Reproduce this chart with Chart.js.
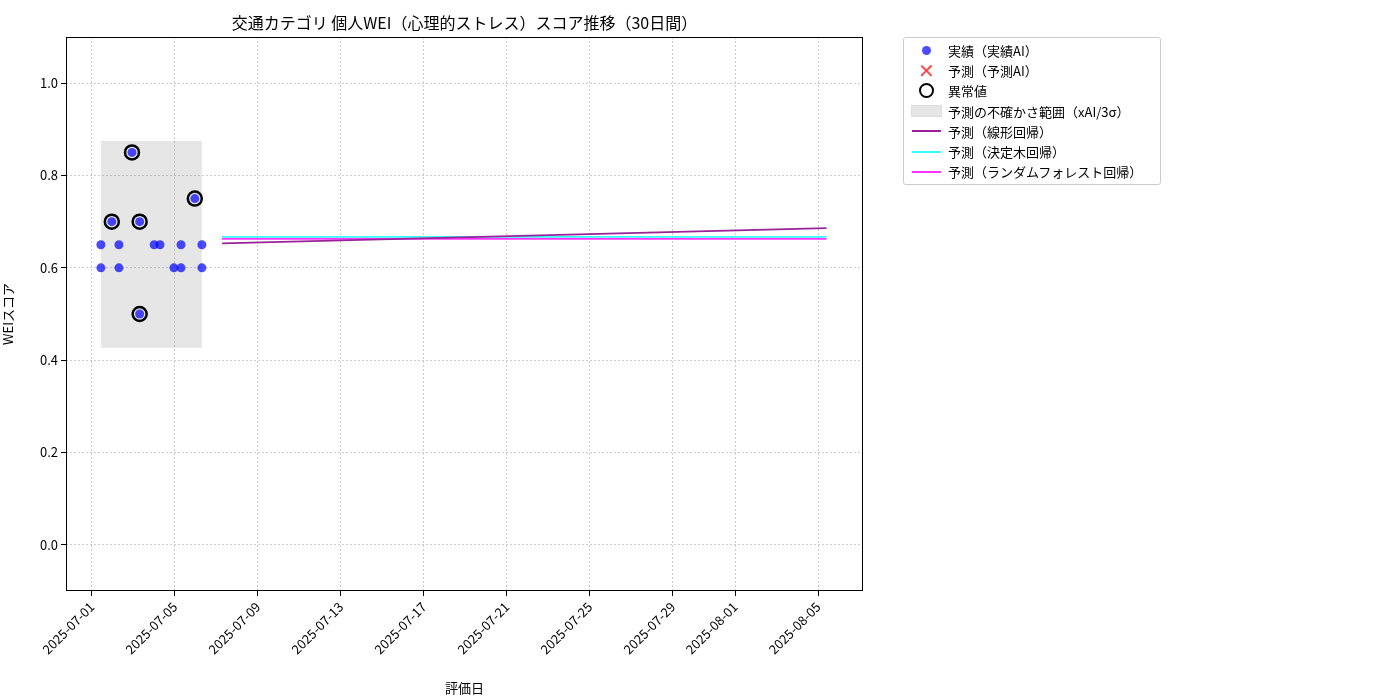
<!DOCTYPE html>
<html>
<head>
<meta charset="utf-8">
<script src="https://cdn.jsdelivr.net/npm/chart.js@4"></script>
<style>
body { margin: 0; background: #fff; font-family: "Noto Sans CJK JP", sans-serif; }
#wrap { position: relative; width: 1400px; height: 700px; }
#title { position: absolute; left: 66px; width: 797px; top: 10px; text-align: center; font-size: 16px; color: #000; }
#legend { position: absolute; left: 903px; top: 37px; width: 256px; border: 1px solid #ccc; border-radius: 3px; padding: 2px 0; font-size: 13px; }
.row { display: flex; align-items: center; height: 20.3px; }
.sym { width: 44px; display: flex; justify-content: center; align-items: center; }
</style>
</head>
<body>
<div id="wrap">
<canvas id="c" width="1400" height="700"></canvas>
<div id="title">交通カテゴリ 個人WEI（心理的ストレス）スコア推移（30日間）</div>
<div id="legend">
  <div class="row"><div class="sym"><span style="width:9px;height:9px;border-radius:50%;background:rgba(0,0,255,0.7)"></span></div>実績（実績AI）</div>
  <div class="row"><div class="sym"><span style="color:#ff4444;font-size:20px;line-height:1">✕</span></div>予測（予測AI）</div>
  <div class="row"><div class="sym"><span style="width:11px;height:11px;border-radius:50%;border:2.5px solid #000"></span></div>異常値</div>
  <div class="row"><div class="sym"><span style="width:29px;height:10px;background:rgba(128,128,128,0.2);border:1px solid #ddd"></span></div>予測の不確かさ範囲（xAI/3σ）</div>
  <div class="row"><div class="sym"><span style="width:29px;height:2px;background:#992299"></span></div>予測（線形回帰）</div>
  <div class="row"><div class="sym"><span style="width:29px;height:2px;background:#33ffff"></span></div>予測（決定木回帰）</div>
  <div class="row"><div class="sym"><span style="width:29px;height:2px;background:#ff33ff"></span></div>予測（ランダムフォレスト回帰）</div>
</div>
</div>
<script>
// actual scores
const actDates = ['2025-07-01T10:20','2025-07-01T10:20','2025-07-01T23:00','2025-07-02T07:12','2025-07-02T07:12',
  '2025-07-02T22:20','2025-07-03T07:12','2025-07-03T07:12','2025-07-04T00:00','2025-07-04T06:43',
  '2025-07-04T22:48','2025-07-05T07:00','2025-07-05T07:00','2025-07-05T23:00','2025-07-06T07:12','2025-07-06T07:12'];
const actValues = [0.65,0.60,0.70,0.65,0.60,0.85,0.70,0.50,0.65,0.65,0.60,0.65,0.60,0.75,0.65,0.60];
const outlierDates = ['2025-07-01T23:00','2025-07-02T22:20','2025-07-03T07:12','2025-07-03T07:12','2025-07-05T23:00'];
const outlierValues = [0.70,0.85,0.70,0.50,0.75];
// uncertainty band
const bandDates = ['2025-07-01T10:20','2025-07-06T07:12'];
const bandUpper = [0.875,0.875];
const bandLower = [0.427,0.427];
// model predictions
const predDates = ['2025-07-07T06:30','2025-08-05T09:36'];
const linearValues = [0.653,0.686];
const treeValues = [0.667,0.667];
const forestValues = [0.663,0.663];
const tickDates = ['2025-07-01','2025-07-05','2025-07-09','2025-07-13','2025-07-17','2025-07-21','2025-07-25','2025-07-29','2025-08-01','2025-08-05'];

const base = Date.parse('2025-07-01T00:00');
const day = s => (Date.parse(s.length > 10 ? s : s + 'T00:00') - base) / 86400000;
const pts = (ds, vs) => ds.map((d, i) => ({ x: day(d), y: vs[i] }));
const tickPos = tickDates.map(day);

const frame = {
  id: 'frame',
  afterDraw(chart) {
    const a = chart.chartArea, ctx = chart.ctx;
    ctx.save(); ctx.strokeStyle = '#000'; ctx.lineWidth = 1;
    ctx.strokeRect(a.left + 0.5, a.top + 0.5, a.width - 1, a.height - 1);
    ctx.restore();
  }
};

const font = { family: 'Noto Sans CJK JP', size: 13 };
new Chart(document.getElementById('c'), {
  type: 'scatter',
  data: {
    datasets: [
      { data: pts(bandDates, bandUpper), showLine: true, pointRadius: 0, borderWidth: 0, borderColor: 'rgba(0,0,0,0)', backgroundColor: 'rgba(128,128,128,0.2)', fill: '+1', order: 5 },
      { data: pts(bandDates, bandLower), showLine: true, pointRadius: 0, borderWidth: 0, borderColor: 'rgba(0,0,0,0)', fill: false, order: 5 },
      { data: pts(predDates, linearValues), showLine: true, pointRadius: 0, borderColor: '#992299', borderWidth: 1.8, order: 4 },
      { data: pts(predDates, treeValues), showLine: true, pointRadius: 0, borderColor: '#33ffff', borderWidth: 1.8, order: 4 },
      { data: pts(predDates, forestValues), showLine: true, pointRadius: 0, borderColor: '#ff33ff', borderWidth: 1.8, order: 4 },
      { data: pts(actDates, actValues), pointRadius: 4.5, backgroundColor: 'rgba(0,0,255,0.7)', borderWidth: 0, order: 2 },
      { data: pts(outlierDates, outlierValues), pointRadius: 7, backgroundColor: 'rgba(0,0,0,0)', borderColor: '#000', borderWidth: 2.5, order: 1 }
    ]
  },
  options: {
    responsive: false, animation: false,
    layout: { padding: { left: 0, right: 537, top: 37, bottom: 0 } },
    plugins: { legend: { display: false }, tooltip: { enabled: false } },
    scales: {
      x: {
        type: 'linear', min: -1.25, max: 37.16,
        afterBuildTicks: ax => { ax.ticks = tickPos.map(v => ({ value: v })); },
        afterFit: ax => { ax.height = 109; },
        ticks: { color: '#000', font, minRotation: 45, maxRotation: 45, callback: (v) => tickDates[tickPos.indexOf(v)] },
        grid: { color: '#ccc', borderDash: [2, 2], tickColor: '#000', tickLength: 5 },
        border: { display: false, dash: [2, 2] },
        title: { display: true, text: '評価日', color: '#000', font, padding: { top: 0 } }
      },
      y: {
        min: -0.1, max: 1.1,
        afterBuildTicks: ax => { ax.ticks = [0, 0.2, 0.4, 0.6, 0.8, 1.0].map(v => ({ value: v })); },
        afterFit: ax => { ax.width = 66; },
        ticks: { color: '#000', font, callback: v => v.toFixed(1) },
        grid: { color: '#ccc', tickColor: '#000', tickLength: 5 },
        border: { display: false, dash: [2, 2] },
        title: { display: true, text: 'WEIスコア', color: '#000', font, padding: 0 }
      }
    }
  },
  plugins: [frame]
});
</script>
</body>
</html>
